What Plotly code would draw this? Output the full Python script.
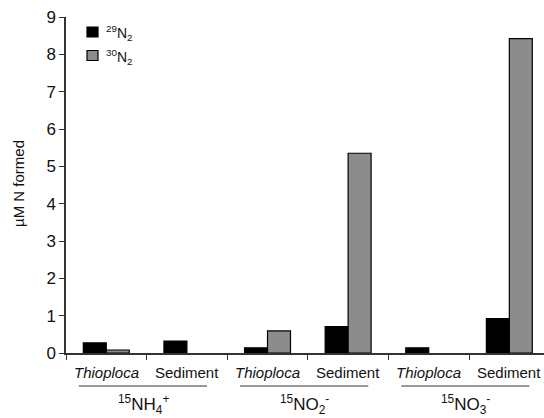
import plotly.graph_objects as go

categories = ["Thioploca", "Sediment", "Thioploca", "Sediment", "Thioploca", "Sediment"]
groups = ["<sup>15</sup>NH<sub>4</sub><sup>+</sup>", "<sup>15</sup>NO<sub>2</sub><sup>-</sup>", "<sup>15</sup>NO<sub>3</sub><sup>-</sup>"]
n29 = [0.27, 0.32, 0.14, 0.71, 0.14, 0.92]
n30 = [0.08, 0.0, 0.59, 5.35, 0.0, 8.42]
series_names = ["<sup>29</sup>N<sub>2</sub>", "<sup>30</sup>N<sub>2</sub>"]
series_colors = ["#000000", "#8c8c8c"]
yticks = [0, 1, 2, 3, 4, 5, 6, 7, 8, 9]

xpos = [i + 0.5 for i in range(len(categories))]
FONT = "Liberation Sans, Arial, sans-serif"
W, H = 544, 418
ML, MR, MT, MB = 66, 0, 17, 65
PW, PH = W - ML - MR, H - MT - MB

def px_x(p):
    return (p - ML) / PW

def px_y(p):
    return (H - MB - p) / PH

fig = go.Figure()
for name, vals, col in zip(series_names, [n29, n30], series_colors):
    fig.add_trace(go.Bar(x=xpos, y=vals, name=name, showlegend=False,
                         marker=dict(color=col, line=dict(color="#000000", width=[1.2 if v > 0 else 0 for v in vals]))))

annotations = []
shapes = []
for i, c in enumerate(categories):
    txt = "<i>%s</i>" % c if c == "Thioploca" else c
    annotations.append(dict(x=xpos[i], y=px_y(372), xref="x", yref="paper", text=txt, showarrow=False,
                            font=dict(size=15, color="#111", family=FONT), yanchor="middle"))
for g, lbl in enumerate(groups):
    x0 = 2 * g + 0.16
    x1 = 2 * g + 1.75
    shapes.append(dict(type="line", xref="x", yref="paper", x0=x0, x1=x1, y0=px_y(386), y1=px_y(386),
                       line=dict(color="#333", width=1)))
    annotations.append(dict(x=2 * g + 0.96, y=px_y(405), xref="x", yref="paper", text=lbl, showarrow=False,
                            font=dict(size=17, color="#111", family=FONT), yanchor="middle"))

# manual legend
for k, (name, col) in enumerate(zip(series_names, series_colors)):
    top = 27 + 23.5 * k
    shapes.append(dict(type="rect", xref="paper", yref="paper", x0=px_x(87), x1=px_x(98),
                       y0=px_y(top + 10), y1=px_y(top), fillcolor=col, line=dict(color="#000", width=1.2)))
    annotations.append(dict(x=px_x(104), y=px_y(top + 6), xref="paper", yref="paper", text=name,
                            showarrow=False, xanchor="left", yanchor="middle",
                            font=dict(size=14, color="#111", family=FONT)))

annotations.append(dict(x=px_x(18), y=px_y(184), xref="paper", yref="paper", text="µM N formed", textangle=-90,
                        xanchor="center", yanchor="middle",
                        showarrow=False, font=dict(size=15, color="#111", family=FONT)))

fig.update_layout(
    width=W, height=H,
    margin=dict(l=ML, r=MR, t=MT, b=MB),
    plot_bgcolor="white", paper_bgcolor="white",
    barmode="group", bargap=0.43, bargroupgap=0,
    font=dict(family=FONT, color="#111"),
    showlegend=False,
    xaxis=dict(range=[0, 5.93], tickvals=list(range(7)), ticktext=[""] * 7, ticks="outside", ticklen=5,
               tickcolor="#333", showline=True, linecolor="#333", linewidth=1.5, showgrid=False, zeroline=False),
    yaxis=dict(range=[0, 9], tickvals=yticks, ticks="outside", ticklen=5, tickcolor="#333",
               showline=True, linecolor="#333", linewidth=1.5, showgrid=False, zeroline=False,
               tickfont=dict(size=17, color="#111", family=FONT)),
    annotations=annotations, shapes=shapes,
)

fig.write_html("out.html", config={"displayModeBar": False},
               post_script="document.body.style.margin='0';document.body.style.overflow='hidden';")
